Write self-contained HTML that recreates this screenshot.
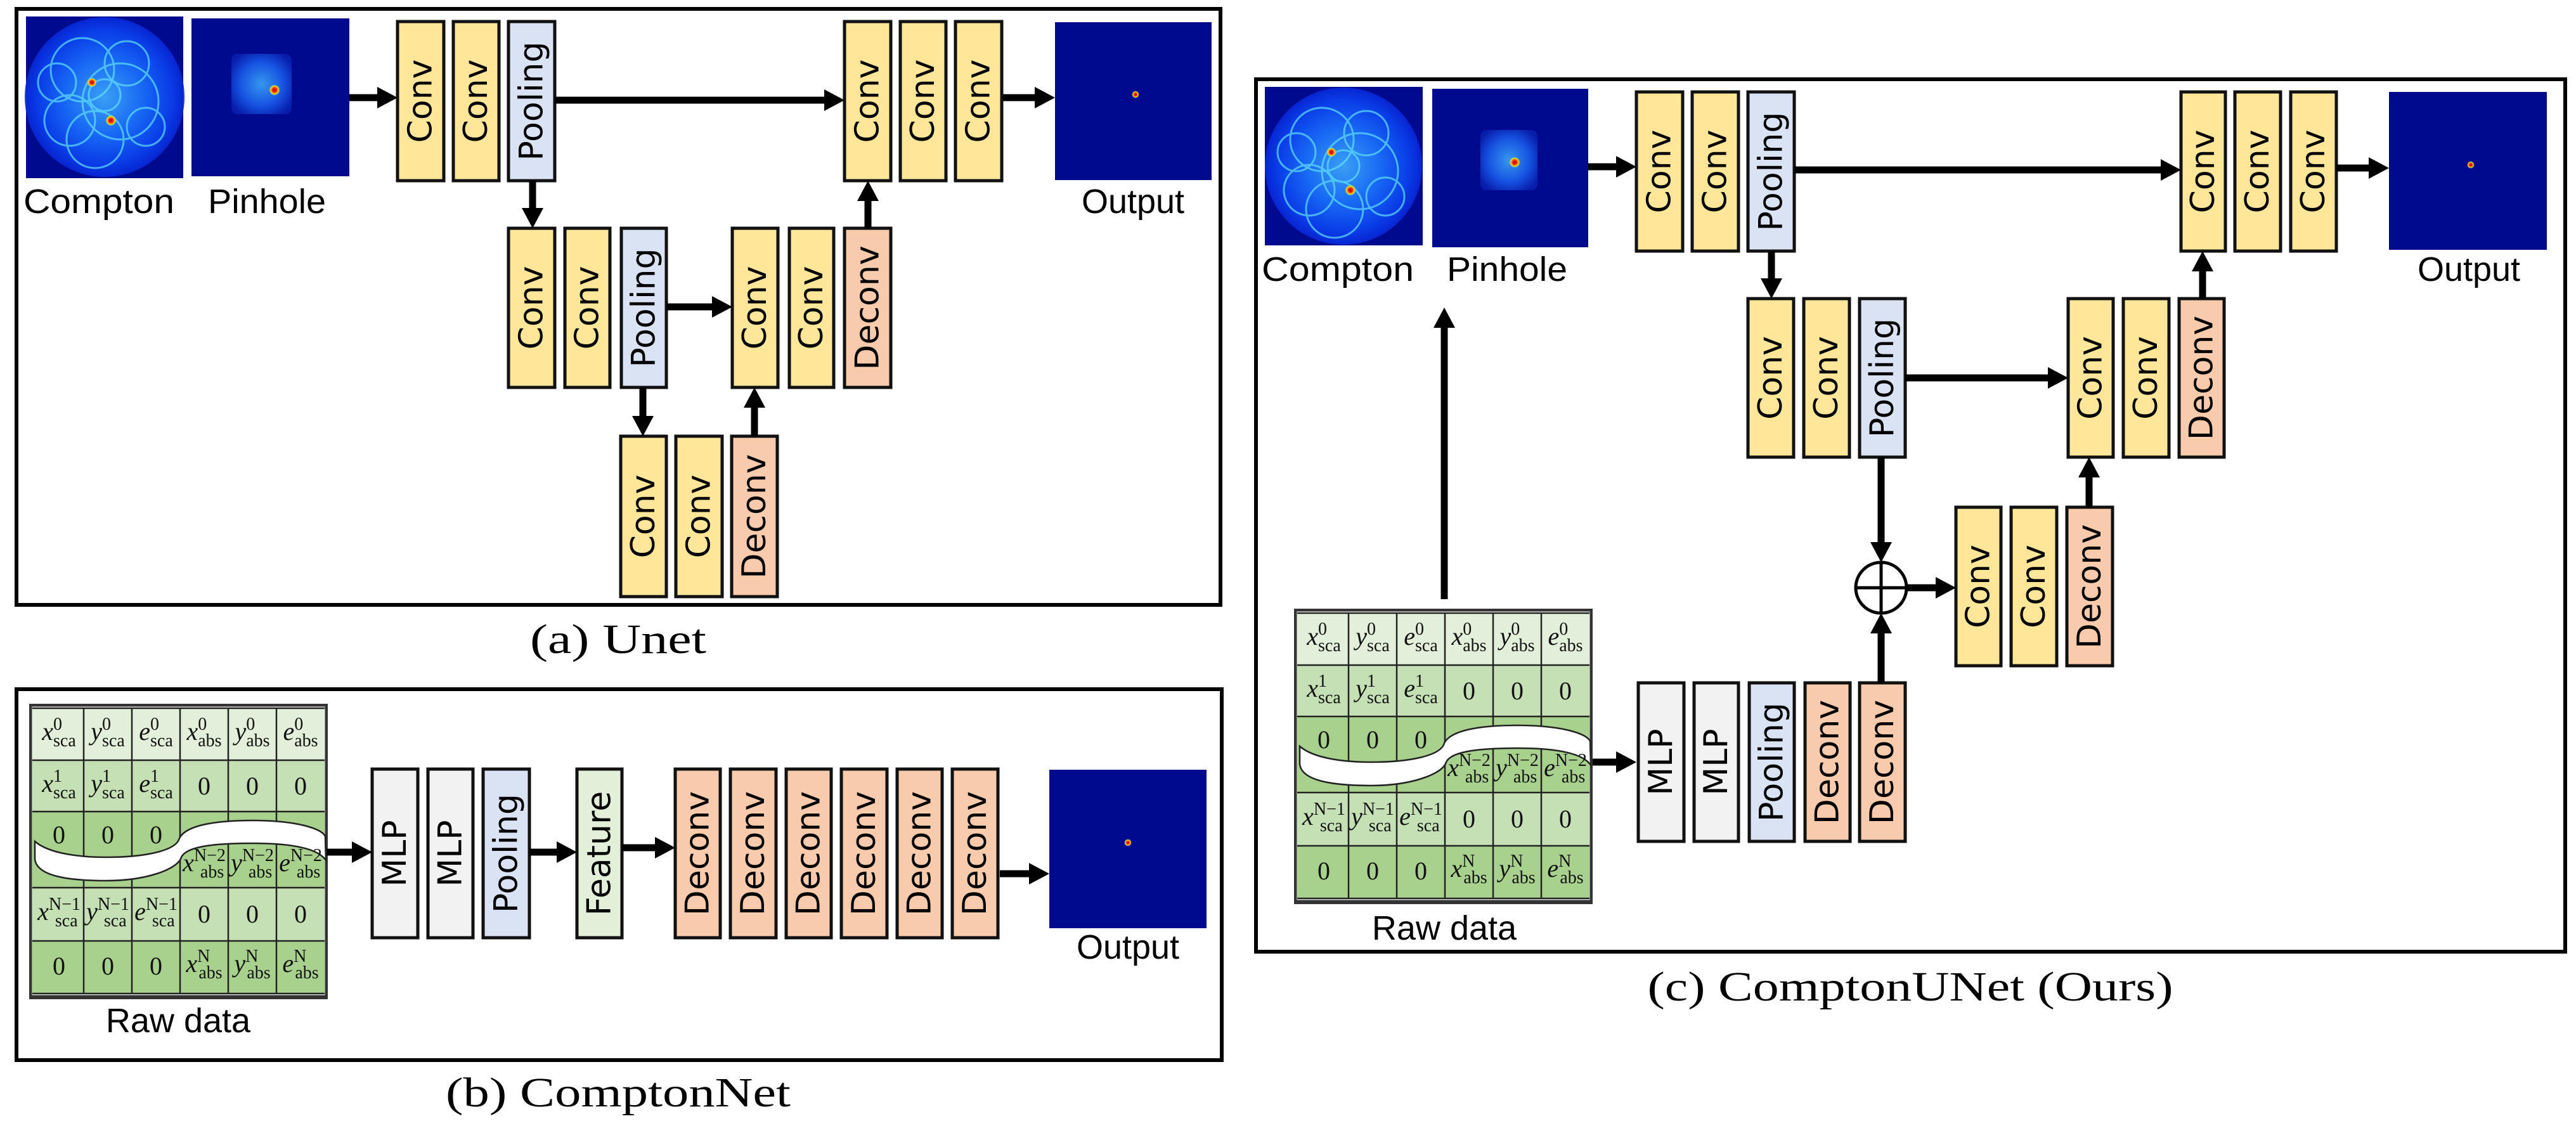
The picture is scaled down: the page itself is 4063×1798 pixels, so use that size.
<!DOCTYPE html>
<html><head><meta charset="utf-8"><style>html,body{margin:0;padding:0;background:#fff}svg{display:block}</style></head>
<body>
<svg width="4063" height="1798" viewBox="0 0 4063 1798" xmlns="http://www.w3.org/2000/svg">
<defs>
<marker id="ah" markerUnits="userSpaceOnUse" markerWidth="32" markerHeight="34" refX="10" refY="17" orient="auto"><path d="M0,0 L32,17 L0,34 Z" fill="#000"/></marker>
<radialGradient id="cg" cx="50%" cy="50%" r="50%"><stop offset="0" stop-color="#40b0ff"/><stop offset="0.5" stop-color="#1a70ff"/><stop offset="0.85" stop-color="#0a40f0"/><stop offset="1" stop-color="#0828d8"/></radialGradient>
<radialGradient id="pg" cx="50%" cy="50%" r="60%"><stop offset="0" stop-color="#40b0ff"/><stop offset="0.6" stop-color="#1a60f0"/><stop offset="1" stop-color="#0a20b0"/></radialGradient>
<radialGradient id="rd" cx="50%" cy="50%" r="50%"><stop offset="0" stop-color="#b00000"/><stop offset="0.4" stop-color="#ff3000"/><stop offset="0.7" stop-color="#ffe000"/><stop offset="1" stop-color="#30c0ff" stop-opacity="0"/></radialGradient>
</defs>
<style>
.bx{stroke:#111;stroke-width:5}
.cv{fill:#ffe699}.pl{fill:#dae3f3}.dc{fill:#f8cbad}.ml{fill:#f2f2f2}.ft{fill:#e2f0d9}
.bt{font-family:"DejaVu Sans",sans-serif;font-size:52px;fill:#000}
.ar{stroke:#000;stroke-width:11;fill:none;marker-end:url(#ah)}
.pn{fill:none;stroke:#000;stroke-width:6}
.lb{font-family:"Liberation Sans",sans-serif;font-size:54px;fill:#000}
.cap{font-family:"Liberation Serif",serif;font-size:66px;fill:#000}
.tt{font-family:"Liberation Serif",serif;font-style:italic;font-size:40px;fill:#111}
.tn{font-family:"Liberation Serif",serif;font-size:40px;fill:#111}
.sp{font-size:28px;font-style:normal}
</style>

<rect class="pn" x="26" y="14" width="1899" height="940"/>
<rect class="pn" x="26" y="1087" width="1901" height="585"/>
<rect class="pn" x="1981" y="125" width="2065" height="1376"/>

<text class="cap" x="975" y="1030" text-anchor="middle" textLength="278" lengthAdjust="spacingAndGlyphs">(a) Unet</text>
<text class="cap" x="975" y="1745" text-anchor="middle" textLength="544" lengthAdjust="spacingAndGlyphs">(b) ComptonNet</text>
<text class="cap" x="3013" y="1578" text-anchor="middle" textLength="829" lengthAdjust="spacingAndGlyphs">(c) ComptonUNet (Ours)</text>

<g>
<rect x="41" y="26" width="248" height="255" fill="#000a8f"/>
<circle cx="165" cy="153" r="126" fill="url(#cg)" opacity="0.9"/>
<g fill="none" stroke="#60e0ff" stroke-width="3" opacity="0.7">
<circle cx="130" cy="110" r="50"/><circle cx="190" cy="160" r="60"/><circle cx="110" cy="190" r="40"/><circle cx="200" cy="100" r="35"/><circle cx="150" cy="220" r="45"/><circle cx="90" cy="130" r="30"/><circle cx="230" cy="200" r="30"/><circle cx="165" cy="150" r="25"/></g>
<circle cx="145" cy="130" r="8" fill="url(#rd)"/><circle cx="175" cy="190" r="9" fill="url(#rd)"/>
</g>
<g>
<rect x="302" y="29" width="249" height="249" fill="#000a8f"/>
<rect x="365" y="85" width="95" height="95" rx="10" fill="url(#pg)" opacity="0.85"/>
<circle cx="433" cy="142" r="9" fill="url(#rd)"/>
</g>
<text class="lb" x="156" y="336" text-anchor="middle" textLength="238" lengthAdjust="spacingAndGlyphs">Compton</text>
<text class="lb" x="421" y="336" text-anchor="middle" textLength="186" lengthAdjust="spacingAndGlyphs">Pinhole</text>
<rect x="1664" y="35" width="247" height="249" fill="#000a8f"/>
<circle cx="1791" cy="149" r="6" fill="url(#rd)"/>
<text class="lb" x="1787" y="336" text-anchor="middle">Output</text>

<g>
<rect class="bx cv" x="627" y="34" width="73" height="251"/><text class="bt" transform="translate(663.5,159.5) rotate(-90)" text-anchor="middle" dominant-baseline="central">Conv</text>
<rect class="bx cv" x="715" y="34" width="72" height="251"/><text class="bt" transform="translate(751,159.5) rotate(-90)" text-anchor="middle" dominant-baseline="central">Conv</text>
<rect class="bx pl" x="802" y="34" width="73" height="251"/><text class="bt" transform="translate(838.5,159.5) rotate(-90)" text-anchor="middle" dominant-baseline="central">Pooling</text>
<rect class="bx cv" x="1332" y="34" width="73" height="251"/><text class="bt" transform="translate(1368.5,159.5) rotate(-90)" text-anchor="middle" dominant-baseline="central">Conv</text>
<rect class="bx cv" x="1420" y="34" width="72" height="251"/><text class="bt" transform="translate(1456,159.5) rotate(-90)" text-anchor="middle" dominant-baseline="central">Conv</text>
<rect class="bx cv" x="1507" y="34" width="73" height="251"/><text class="bt" transform="translate(1543.5,159.5) rotate(-90)" text-anchor="middle" dominant-baseline="central">Conv</text>

<rect class="bx cv" x="802" y="360" width="73" height="251"/><text class="bt" transform="translate(838.5,485.5) rotate(-90)" text-anchor="middle" dominant-baseline="central">Conv</text>
<rect class="bx cv" x="891" y="360" width="71" height="251"/><text class="bt" transform="translate(926.5,485.5) rotate(-90)" text-anchor="middle" dominant-baseline="central">Conv</text>
<rect class="bx pl" x="980" y="360" width="71" height="251"/><text class="bt" transform="translate(1015.5,485.5) rotate(-90)" text-anchor="middle" dominant-baseline="central">Pooling</text>
<rect class="bx cv" x="1155" y="360" width="72" height="251"/><text class="bt" transform="translate(1191,485.5) rotate(-90)" text-anchor="middle" dominant-baseline="central">Conv</text>
<rect class="bx cv" x="1245" y="360" width="70" height="251"/><text class="bt" transform="translate(1280,485.5) rotate(-90)" text-anchor="middle" dominant-baseline="central">Conv</text>
<rect class="bx dc" x="1332" y="360" width="73" height="251"/><text class="bt" transform="translate(1368.5,485.5) rotate(-90)" text-anchor="middle" dominant-baseline="central">Deconv</text>

<rect class="bx cv" x="979" y="688" width="72" height="253"/><text class="bt" transform="translate(1015,814.5) rotate(-90)" text-anchor="middle" dominant-baseline="central">Conv</text>
<rect class="bx cv" x="1066" y="688" width="73" height="253"/><text class="bt" transform="translate(1102.5,814.5) rotate(-90)" text-anchor="middle" dominant-baseline="central">Conv</text>
<rect class="bx dc" x="1154" y="688" width="72" height="253"/><text class="bt" transform="translate(1190,814.5) rotate(-90)" text-anchor="middle" dominant-baseline="central">Deconv</text>
</g>
<line class="ar" x1="551" y1="154" x2="605" y2="154"/>
<line class="ar" x1="875" y1="158" x2="1310" y2="158"/>
<line class="ar" x1="1582" y1="154" x2="1642" y2="154"/>
<line class="ar" x1="840" y1="285" x2="840" y2="338"/>
<line class="ar" x1="1051" y1="484" x2="1133" y2="484"/>
<line class="ar" x1="1369" y1="360" x2="1369" y2="307"/>
<line class="ar" x1="1014" y1="611" x2="1014" y2="666"/>
<line class="ar" x1="1190" y1="688" x2="1190" y2="633"/>

<g transform="translate(48,1112)">
<rect x="0" y="0" width="467" height="462" fill="#fff" stroke="#333" stroke-width="4"/>
<rect x="3" y="5" width="461" height="82" fill="#e2efda"/>
<rect x="3" y="87" width="461" height="81" fill="#c5e0b4"/>
<rect x="3" y="168" width="461" height="120" fill="#a9d18e"/>
<rect x="3" y="288" width="461" height="84" fill="#c5e0b4"/>
<rect x="3" y="372" width="461" height="83" fill="#a9d18e"/>
<g stroke="#222" stroke-width="2.5">
<line x1="3" y1="5" x2="464" y2="5"/><line x1="3" y1="87" x2="464" y2="87"/><line x1="3" y1="168" x2="464" y2="168"/><line x1="3" y1="288" x2="464" y2="288"/><line x1="3" y1="372" x2="464" y2="372"/><line x1="3" y1="455" x2="464" y2="455"/>
<line x1="84" y1="5" x2="84" y2="455"/><line x1="160" y1="5" x2="160" y2="455"/><line x1="236" y1="5" x2="236" y2="455"/><line x1="312" y1="5" x2="312" y2="455"/><line x1="388" y1="5" x2="388" y2="455"/>
</g>
<rect x="1" y="1" width="465" height="458" fill="none" stroke="#333" stroke-width="3"/>
<path d="M7,215 C30,235 80,240 120,240 C180,240 230,230 235,210 C245,190 290,182 350,182 C420,182 460,195 465,207 L466,245 C455,228 420,218 350,218 C280,218 245,225 238,240 C232,260 180,277 120,277 C60,277 10,270 7,243 Z" fill="#fff" stroke="#222" stroke-width="2.5"/>
<g text-anchor="middle">
<text class="tt" x="45" y="55">x<tspan class="sp" dy="-16">0</tspan><tspan class="sp" dx="-14" dy="26">sca</tspan></text>
<text class="tt" x="122" y="55">y<tspan class="sp" dy="-16">0</tspan><tspan class="sp" dx="-14" dy="26">sca</tspan></text>
<text class="tt" x="198" y="55">e<tspan class="sp" dy="-16">0</tspan><tspan class="sp" dx="-14" dy="26">sca</tspan></text>
<text class="tt" x="274" y="55">x<tspan class="sp" dy="-16">0</tspan><tspan class="sp" dx="-14" dy="26">abs</tspan></text>
<text class="tt" x="350" y="55">y<tspan class="sp" dy="-16">0</tspan><tspan class="sp" dx="-14" dy="26">abs</tspan></text>
<text class="tt" x="426" y="55">e<tspan class="sp" dy="-16">0</tspan><tspan class="sp" dx="-14" dy="26">abs</tspan></text>
<text class="tt" x="45" y="137">x<tspan class="sp" dy="-16">1</tspan><tspan class="sp" dx="-14" dy="26">sca</tspan></text>
<text class="tt" x="122" y="137">y<tspan class="sp" dy="-16">1</tspan><tspan class="sp" dx="-14" dy="26">sca</tspan></text>
<text class="tt" x="198" y="137">e<tspan class="sp" dy="-16">1</tspan><tspan class="sp" dx="-14" dy="26">sca</tspan></text>
<text class="tn" x="274" y="141">0</text><text class="tn" x="350" y="141">0</text><text class="tn" x="426" y="141">0</text>
<text class="tn" x="45" y="218">0</text><text class="tn" x="122" y="218">0</text><text class="tn" x="198" y="218">0</text>
<text class="tt" x="274" y="262">x<tspan class="sp" dy="-16">N−2</tspan><tspan class="sp" dx="-40" dy="26">abs</tspan></text>
<text class="tt" x="350" y="262">y<tspan class="sp" dy="-16">N−2</tspan><tspan class="sp" dx="-40" dy="26">abs</tspan></text>
<text class="tt" x="426" y="262">e<tspan class="sp" dy="-16">N−2</tspan><tspan class="sp" dx="-40" dy="26">abs</tspan></text>
<text class="tt" x="45" y="339">x<tspan class="sp" dy="-16">N−1</tspan><tspan class="sp" dx="-40" dy="26">sca</tspan></text>
<text class="tt" x="122" y="339">y<tspan class="sp" dy="-16">N−1</tspan><tspan class="sp" dx="-40" dy="26">sca</tspan></text>
<text class="tt" x="198" y="339">e<tspan class="sp" dy="-16">N−1</tspan><tspan class="sp" dx="-40" dy="26">sca</tspan></text>
<text class="tn" x="274" y="343">0</text><text class="tn" x="350" y="343">0</text><text class="tn" x="426" y="343">0</text>
<text class="tn" x="45" y="425">0</text><text class="tn" x="122" y="425">0</text><text class="tn" x="198" y="425">0</text>
<text class="tt" x="274" y="421">x<tspan class="sp" dy="-16">N</tspan><tspan class="sp" dx="-18" dy="26">abs</tspan></text>
<text class="tt" x="350" y="421">y<tspan class="sp" dy="-16">N</tspan><tspan class="sp" dx="-18" dy="26">abs</tspan></text>
<text class="tt" x="426" y="421">e<tspan class="sp" dy="-16">N</tspan><tspan class="sp" dx="-18" dy="26">abs</tspan></text>
</g>
</g>
<text class="lb" x="281" y="1628" text-anchor="middle">Raw data</text>

<g>
<rect class="bx ml" x="587" y="1213" width="72" height="266"/><text class="bt" transform="translate(623,1346) rotate(-90)" text-anchor="middle" dominant-baseline="central">MLP</text>
<rect class="bx ml" x="675" y="1213" width="71" height="266"/><text class="bt" transform="translate(710.5,1346) rotate(-90)" text-anchor="middle" dominant-baseline="central">MLP</text>
<rect class="bx pl" x="762" y="1213" width="73" height="266"/><text class="bt" transform="translate(798.5,1346) rotate(-90)" text-anchor="middle" dominant-baseline="central">Pooling</text>
<rect class="bx ft" x="910" y="1213" width="71" height="266"/><text class="bt" transform="translate(945.5,1346) rotate(-90)" text-anchor="middle" dominant-baseline="central">Feature</text>
<rect class="bx dc" x="1065" y="1213" width="71" height="266"/><text class="bt" transform="translate(1100.5,1346) rotate(-90)" text-anchor="middle" dominant-baseline="central">Deconv</text>
<rect class="bx dc" x="1152" y="1213" width="72" height="266"/><text class="bt" transform="translate(1188,1346) rotate(-90)" text-anchor="middle" dominant-baseline="central">Deconv</text>
<rect class="bx dc" x="1240" y="1213" width="71" height="266"/><text class="bt" transform="translate(1275.5,1346) rotate(-90)" text-anchor="middle" dominant-baseline="central">Deconv</text>
<rect class="bx dc" x="1327" y="1213" width="72" height="266"/><text class="bt" transform="translate(1363,1346) rotate(-90)" text-anchor="middle" dominant-baseline="central">Deconv</text>
<rect class="bx dc" x="1415" y="1213" width="71" height="266"/><text class="bt" transform="translate(1450.5,1346) rotate(-90)" text-anchor="middle" dominant-baseline="central">Deconv</text>
<rect class="bx dc" x="1502" y="1213" width="72" height="266"/><text class="bt" transform="translate(1538,1346) rotate(-90)" text-anchor="middle" dominant-baseline="central">Deconv</text>
</g>
<rect x="1655" y="1214" width="248" height="250" fill="#000a8f"/>
<circle cx="1779" cy="1329" r="6" fill="url(#rd)"/>
<text class="lb" x="1779" y="1512" text-anchor="middle">Output</text>
<line class="ar" x1="515" y1="1344" x2="565" y2="1344"/>
<line class="ar" x1="835" y1="1344" x2="888" y2="1344"/>
<line class="ar" x1="981" y1="1337" x2="1043" y2="1337"/>
<line class="ar" x1="1577" y1="1378" x2="1633" y2="1378"/>

<g>
<rect x="1995" y="137" width="249" height="250" fill="#000a8f"/>
<circle cx="2119" cy="262" r="124" fill="url(#cg)" opacity="0.9"/>
<g fill="none" stroke="#60e0ff" stroke-width="3" opacity="0.7">
<circle cx="2085" cy="220" r="50"/><circle cx="2145" cy="270" r="60"/><circle cx="2065" cy="300" r="40"/><circle cx="2155" cy="210" r="35"/><circle cx="2105" cy="330" r="45"/><circle cx="2045" cy="240" r="30"/><circle cx="2185" cy="310" r="30"/><circle cx="2119" cy="262" r="25"/></g>
<circle cx="2100" cy="240" r="8" fill="url(#rd)"/><circle cx="2130" cy="300" r="9" fill="url(#rd)"/>
</g>
<g>
<rect x="2259" y="140" width="246" height="250" fill="#000a8f"/>
<rect x="2335" y="205" width="90" height="95" rx="10" fill="url(#pg)" opacity="0.85"/>
<circle cx="2389" cy="256" r="9" fill="url(#rd)"/>
</g>
<text class="lb" x="2110" y="443" text-anchor="middle" textLength="240" lengthAdjust="spacingAndGlyphs">Compton</text>
<text class="lb" x="2377" y="443" text-anchor="middle" textLength="190" lengthAdjust="spacingAndGlyphs">Pinhole</text>
<rect x="3768" y="145" width="249" height="249" fill="#000a8f"/>
<circle cx="3897" cy="260" r="6" fill="url(#rd)"/>
<text class="lb" x="3894" y="443" text-anchor="middle">Output</text>

<g>
<rect class="bx cv" x="2581" y="145" width="73" height="251"/><text class="bt" transform="translate(2617.5,270.5) rotate(-90)" text-anchor="middle" dominant-baseline="central">Conv</text>
<rect class="bx cv" x="2669" y="145" width="73" height="251"/><text class="bt" transform="translate(2705.5,270.5) rotate(-90)" text-anchor="middle" dominant-baseline="central">Conv</text>
<rect class="bx pl" x="2757" y="145" width="73" height="251"/><text class="bt" transform="translate(2793.5,270.5) rotate(-90)" text-anchor="middle" dominant-baseline="central">Pooling</text>
<rect class="bx cv" x="3440" y="145" width="70" height="251"/><text class="bt" transform="translate(3475,270.5) rotate(-90)" text-anchor="middle" dominant-baseline="central">Conv</text>
<rect class="bx cv" x="3525" y="145" width="72" height="251"/><text class="bt" transform="translate(3561,270.5) rotate(-90)" text-anchor="middle" dominant-baseline="central">Conv</text>
<rect class="bx cv" x="3613" y="145" width="72" height="251"/><text class="bt" transform="translate(3649,270.5) rotate(-90)" text-anchor="middle" dominant-baseline="central">Conv</text>

<rect class="bx cv" x="2757" y="471" width="72" height="250"/><text class="bt" transform="translate(2793,596) rotate(-90)" text-anchor="middle" dominant-baseline="central">Conv</text>
<rect class="bx cv" x="2845" y="471" width="72" height="250"/><text class="bt" transform="translate(2881,596) rotate(-90)" text-anchor="middle" dominant-baseline="central">Conv</text>
<rect class="bx pl" x="2933" y="471" width="72" height="250"/><text class="bt" transform="translate(2969,596) rotate(-90)" text-anchor="middle" dominant-baseline="central">Pooling</text>
<rect class="bx cv" x="3262" y="471" width="71" height="250"/><text class="bt" transform="translate(3297.5,596) rotate(-90)" text-anchor="middle" dominant-baseline="central">Conv</text>
<rect class="bx cv" x="3349" y="471" width="72" height="250"/><text class="bt" transform="translate(3385,596) rotate(-90)" text-anchor="middle" dominant-baseline="central">Conv</text>
<rect class="bx dc" x="3437" y="471" width="71" height="250"/><text class="bt" transform="translate(3472.5,596) rotate(-90)" text-anchor="middle" dominant-baseline="central">Deconv</text>

<rect class="bx cv" x="3085" y="800" width="71" height="250"/><text class="bt" transform="translate(3120.5,925) rotate(-90)" text-anchor="middle" dominant-baseline="central">Conv</text>
<rect class="bx cv" x="3172" y="800" width="72" height="250"/><text class="bt" transform="translate(3208,925) rotate(-90)" text-anchor="middle" dominant-baseline="central">Conv</text>
<rect class="bx dc" x="3260" y="800" width="72" height="250"/><text class="bt" transform="translate(3296,925) rotate(-90)" text-anchor="middle" dominant-baseline="central">Deconv</text>

<rect class="bx ml" x="2584" y="1077" width="72" height="250"/><text class="bt" transform="translate(2620,1202) rotate(-90)" text-anchor="middle" dominant-baseline="central">MLP</text>
<rect class="bx ml" x="2672" y="1077" width="70" height="250"/><text class="bt" transform="translate(2707,1202) rotate(-90)" text-anchor="middle" dominant-baseline="central">MLP</text>
<rect class="bx pl" x="2759" y="1077" width="71" height="250"/><text class="bt" transform="translate(2794.5,1202) rotate(-90)" text-anchor="middle" dominant-baseline="central">Pooling</text>
<rect class="bx dc" x="2847" y="1077" width="71" height="250"/><text class="bt" transform="translate(2882.5,1202) rotate(-90)" text-anchor="middle" dominant-baseline="central">Deconv</text>
<rect class="bx dc" x="2933" y="1077" width="72" height="250"/><text class="bt" transform="translate(2969,1202) rotate(-90)" text-anchor="middle" dominant-baseline="central">Deconv</text>
</g>

<circle cx="2967" cy="927" r="40" fill="#fff" stroke="#000" stroke-width="5"/>
<line x1="2927" y1="927" x2="3007" y2="927" stroke="#000" stroke-width="5"/>
<line x1="2967" y1="887" x2="2967" y2="967" stroke="#000" stroke-width="5"/>

<line class="ar" x1="2505" y1="263" x2="2559" y2="263"/>
<line class="ar" x1="2830" y1="268" x2="3418" y2="268"/>
<line class="ar" x1="3685" y1="265" x2="3746" y2="265"/>
<line class="ar" x1="2794" y1="396" x2="2794" y2="449"/>
<line class="ar" x1="3005" y1="596" x2="3240" y2="596"/>
<line class="ar" x1="3474" y1="471" x2="3474" y2="418"/>
<line class="ar" x1="3295" y1="800" x2="3295" y2="743"/>
<line class="ar" x1="2967" y1="721" x2="2967" y2="865"/>
<line class="ar" x1="2967" y1="1077" x2="2967" y2="989"/>
<line class="ar" x1="3008" y1="927" x2="3063" y2="927"/>
<line class="ar" x1="2512" y1="1202" x2="2559" y2="1202"/>
<line class="ar" x1="2278" y1="945" x2="2278" y2="507"/>

<g transform="translate(2043,962)">
<rect x="0" y="0" width="467" height="462" fill="#fff" stroke="#333" stroke-width="4"/>
<rect x="3" y="5" width="461" height="82" fill="#e2efda"/>
<rect x="3" y="87" width="461" height="81" fill="#c5e0b4"/>
<rect x="3" y="168" width="461" height="120" fill="#a9d18e"/>
<rect x="3" y="288" width="461" height="84" fill="#c5e0b4"/>
<rect x="3" y="372" width="461" height="83" fill="#a9d18e"/>
<g stroke="#222" stroke-width="2.5">
<line x1="3" y1="5" x2="464" y2="5"/><line x1="3" y1="87" x2="464" y2="87"/><line x1="3" y1="168" x2="464" y2="168"/><line x1="3" y1="288" x2="464" y2="288"/><line x1="3" y1="372" x2="464" y2="372"/><line x1="3" y1="455" x2="464" y2="455"/>
<line x1="84" y1="5" x2="84" y2="455"/><line x1="160" y1="5" x2="160" y2="455"/><line x1="236" y1="5" x2="236" y2="455"/><line x1="312" y1="5" x2="312" y2="455"/><line x1="388" y1="5" x2="388" y2="455"/>
</g>
<rect x="1" y="1" width="465" height="458" fill="none" stroke="#333" stroke-width="3"/>
<path d="M7,215 C30,235 80,240 120,240 C180,240 230,230 235,210 C245,190 290,182 350,182 C420,182 460,195 465,207 L466,245 C455,228 420,218 350,218 C280,218 245,225 238,240 C232,260 180,277 120,277 C60,277 10,270 7,243 Z" fill="#fff" stroke="#222" stroke-width="2.5"/>
<g text-anchor="middle">
<text class="tt" x="45" y="55">x<tspan class="sp" dy="-16">0</tspan><tspan class="sp" dx="-14" dy="26">sca</tspan></text>
<text class="tt" x="122" y="55">y<tspan class="sp" dy="-16">0</tspan><tspan class="sp" dx="-14" dy="26">sca</tspan></text>
<text class="tt" x="198" y="55">e<tspan class="sp" dy="-16">0</tspan><tspan class="sp" dx="-14" dy="26">sca</tspan></text>
<text class="tt" x="274" y="55">x<tspan class="sp" dy="-16">0</tspan><tspan class="sp" dx="-14" dy="26">abs</tspan></text>
<text class="tt" x="350" y="55">y<tspan class="sp" dy="-16">0</tspan><tspan class="sp" dx="-14" dy="26">abs</tspan></text>
<text class="tt" x="426" y="55">e<tspan class="sp" dy="-16">0</tspan><tspan class="sp" dx="-14" dy="26">abs</tspan></text>
<text class="tt" x="45" y="137">x<tspan class="sp" dy="-16">1</tspan><tspan class="sp" dx="-14" dy="26">sca</tspan></text>
<text class="tt" x="122" y="137">y<tspan class="sp" dy="-16">1</tspan><tspan class="sp" dx="-14" dy="26">sca</tspan></text>
<text class="tt" x="198" y="137">e<tspan class="sp" dy="-16">1</tspan><tspan class="sp" dx="-14" dy="26">sca</tspan></text>
<text class="tn" x="274" y="141">0</text><text class="tn" x="350" y="141">0</text><text class="tn" x="426" y="141">0</text>
<text class="tn" x="45" y="218">0</text><text class="tn" x="122" y="218">0</text><text class="tn" x="198" y="218">0</text>
<text class="tt" x="274" y="262">x<tspan class="sp" dy="-16">N−2</tspan><tspan class="sp" dx="-40" dy="26">abs</tspan></text>
<text class="tt" x="350" y="262">y<tspan class="sp" dy="-16">N−2</tspan><tspan class="sp" dx="-40" dy="26">abs</tspan></text>
<text class="tt" x="426" y="262">e<tspan class="sp" dy="-16">N−2</tspan><tspan class="sp" dx="-40" dy="26">abs</tspan></text>
<text class="tt" x="45" y="339">x<tspan class="sp" dy="-16">N−1</tspan><tspan class="sp" dx="-40" dy="26">sca</tspan></text>
<text class="tt" x="122" y="339">y<tspan class="sp" dy="-16">N−1</tspan><tspan class="sp" dx="-40" dy="26">sca</tspan></text>
<text class="tt" x="198" y="339">e<tspan class="sp" dy="-16">N−1</tspan><tspan class="sp" dx="-40" dy="26">sca</tspan></text>
<text class="tn" x="274" y="343">0</text><text class="tn" x="350" y="343">0</text><text class="tn" x="426" y="343">0</text>
<text class="tn" x="45" y="425">0</text><text class="tn" x="122" y="425">0</text><text class="tn" x="198" y="425">0</text>
<text class="tt" x="274" y="421">x<tspan class="sp" dy="-16">N</tspan><tspan class="sp" dx="-18" dy="26">abs</tspan></text>
<text class="tt" x="350" y="421">y<tspan class="sp" dy="-16">N</tspan><tspan class="sp" dx="-18" dy="26">abs</tspan></text>
<text class="tt" x="426" y="421">e<tspan class="sp" dy="-16">N</tspan><tspan class="sp" dx="-18" dy="26">abs</tspan></text>
</g>
</g>
<text class="lb" x="2278" y="1482" text-anchor="middle">Raw data</text>
</svg>
</body></html>
